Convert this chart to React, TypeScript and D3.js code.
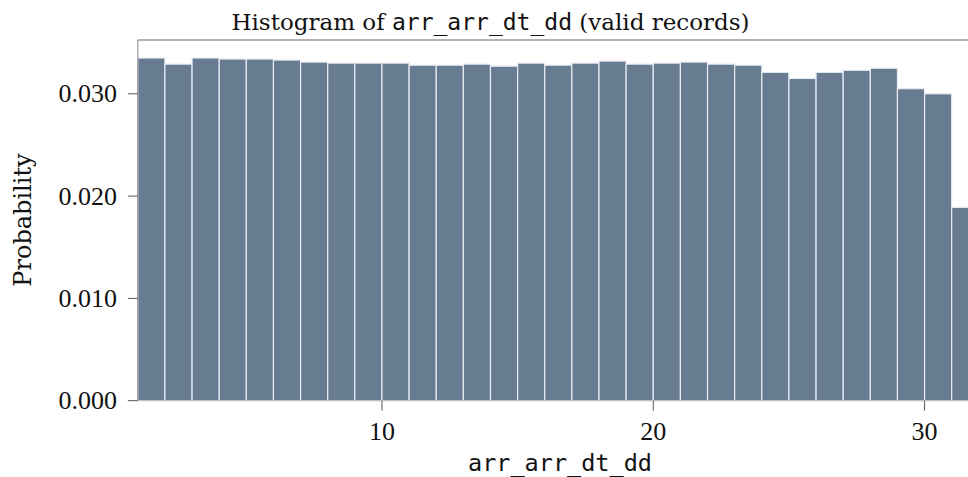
import React from "react";
import * as d3 from "d3";

const binStarts = [1,2,3,4,5,6,7,8,9,10,11,12,13,14,15,16,17,18,19,20,21,22,23,24,25,26,27,28,29,30,31];
const probabilities = [0.0335,0.0329,0.0335,0.0334,0.0334,0.0333,0.0331,0.0330,0.0330,0.0330,0.0328,0.0328,0.0329,0.0327,0.0330,0.0328,0.0330,0.0332,0.0329,0.0330,0.0331,0.0329,0.0328,0.0321,0.0315,0.0321,0.0323,0.0325,0.0305,0.0300,0.0189];
const xTicks = [10, 20, 30];
const yTicks = [0, 0.01, 0.02, 0.03];

const W = 968, H = 477;
const left = 137.8, top = 40, bottom = 400.7;

export default function App() {
  const x = d3.scaleLinear().domain([1, 32]).range([left, left + 31 * 27.13]);
  const y = d3.scaleLinear().domain([0, 0.03]).range([bottom, bottom - 306.9]);
  const fmt = d3.format(".3f");
  const serif = "'DejaVu Serif', serif";
  const tickFont = "'Liberation Serif', serif";
  const mono = "'DejaVu Sans Mono', monospace";
  return (
    <svg width={W} height={H} style={{ position: "absolute", left: 0, top: 0, background: "#fff" }}>
      {binStarts.map((b, i) => (
        <rect key={i} x={x(b)} y={y(probabilities[i])} width={x(b + 1) - x(b)} height={bottom - y(probabilities[i])}
          fill="#677b91" stroke="#e8ecf2" strokeWidth={1.2} />
      ))}
      <line x1={left} x2={W} y1={top} y2={top} stroke="#666" strokeWidth={1} />
      <line x1={left} x2={left} y1={top} y2={bottom} stroke="#888" strokeWidth={1} />
      <line x1={left} x2={W} y1={bottom} y2={bottom} stroke="#bbb" strokeWidth={1} />
      {yTicks.map((t) => (
        <g key={t}>
          <line x1={left - 10} x2={left} y1={y(t)} y2={y(t)} stroke="#555" strokeWidth={1} />
          <text x={117} y={y(t) + 8.5} textAnchor="end" fontFamily={tickFont} fontSize={26} fill="#111">{fmt(t)}</text>
        </g>
      ))}
      {xTicks.map((t) => (
        <g key={t}>
          <line x1={x(t)} x2={x(t)} y1={bottom} y2={bottom + 10} stroke="#555" strokeWidth={1} />
          <text x={x(t)} y={440} textAnchor="middle" fontFamily={tickFont} fontSize={26} fill="#111">{t}</text>
        </g>
      ))}
      <text x={490.5} y={30} textAnchor="middle" fontFamily={serif} fontSize={23} fill="#111">
        Histogram of <tspan fontFamily={mono}>arr_arr_dt_dd</tspan> (valid records)
      </text>
      <text x={560} y={471} textAnchor="middle" fontFamily={mono} fontSize={23.5} fill="#111">arr_arr_dt_dd</text>
      <text transform={`translate(31,220) rotate(-90)`} textAnchor="middle" fontFamily={serif} fontSize={24} fill="#111">Probability</text>
    </svg>
  );
}
